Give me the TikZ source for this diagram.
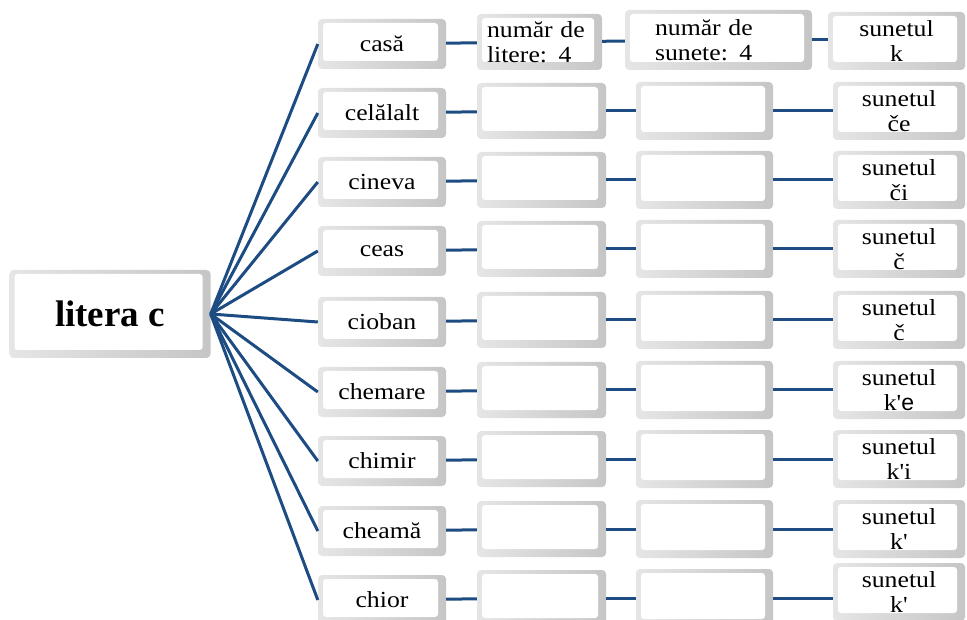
\documentclass[tikz,border=0pt]{standalone}
\usepackage{fontspec}
\setmainfont{Liberation Serif}[Ligatures=TeXOff, FakeStretch=1.12]
\newfontfamily\rootfont{Liberation Serif}
\newfontfamily\arialf{Liberation Sans}
\definecolor{lineblue}{HTML}{1C4C82}
\tikzset{
  bx/.style={rounded corners=4pt, inner sep=0pt, draw=none,
    left color=gray!20, right color=gray!45,
    path picture={
      \fill[white, rounded corners=3pt]
        ([shift={(5pt,-4pt)}]path picture bounding box.north west)
        rectangle ([shift={(-8pt,8pt)}]path picture bounding box.south east);
    },
    font=\fontsize{23}{25}\selectfont, align=center},
  wordbox/.style={bx, minimum width=128pt, minimum height=50pt},
  midbox/.style={bx, minimum width=129pt, minimum height=56pt},
  thirdbox/.style={bx, minimum width=137pt, minimum height=58pt},
  sndbox/.style={bx, minimum width=132pt, minimum height=58pt},
  conn/.style={draw=lineblue, line width=3pt}
}
\begin{document}
\begin{tikzpicture}[x=1pt,y=-1pt]
\useasboundingbox (0,0) rectangle (967,620);
\node[bx, minimum width=201pt, minimum height=88pt, font=\rootfont\fontsize{37}{37}\selectfont\bfseries] (root) at (110,314) {litera c};

% row 1
\node[wordbox] (w1) at (382,44) {casă};
\node[bx, minimum width=125pt, minimum height=56pt, text width=105pt, align=left] (a1) at (539.5,42) {număr de\\litere: 4};
\node[bx, minimum width=187pt, minimum height=60pt, text width=127pt, align=left] (b1) at (718.5,40) {număr de\\sunete: 4};
\node[bx, minimum width=137pt, minimum height=58pt] (c1) at (896.5,41) {sunetul\\k};

% other rows
\node[wordbox] (w2) at (382,113) {celălalt};
\node[wordbox] (w3) at (382,182) {cineva};
\node[wordbox] (w4) at (382,251) {ceas};
\node[wordbox] (w5) at (382,322) {cioban};
\node[wordbox] (w6) at (382,392) {chemare};
\node[wordbox] (w7) at (382,461) {chimir};
\node[wordbox] (w8) at (382,531) {cheamă};
\node[wordbox] (w9) at (382,600) {chior};

\foreach \i/\y in {2/111,3/180,4/249,5/320,6/390,7/459,8/529,9/598}{
  \node[midbox] (a\i) at (541.5,\y) {};
  \node[thirdbox] (b\i) at (704.5,\y) {};
}
\node[sndbox] (c2) at (899,111) {sunetul\\če};
\node[sndbox] (c3) at (899,180) {sunetul\\či};
\node[sndbox] (c4) at (899,249) {sunetul\\č};
\node[sndbox] (c5) at (899,320) {sunetul\\č};
\node[sndbox] (c6) at (899,390) {sunetul\\k'{\arialf e}};
\node[sndbox] (c7) at (899,459) {sunetul\\k'i};
\node[sndbox] (c8) at (899,529) {sunetul\\k'};
\node[sndbox] (c9) at (899,592) {sunetul\\k'};

\foreach \i in {1,...,9}{
  \draw[conn] (root.east) -- (w\i.west);
  \draw[conn] (w\i) -- (a\i);
  \draw[conn] (a\i) -- (b\i);
  \draw[conn] (b\i.east) -- (b\i.east -| c\i.west);
}
\end{tikzpicture}
\end{document}
